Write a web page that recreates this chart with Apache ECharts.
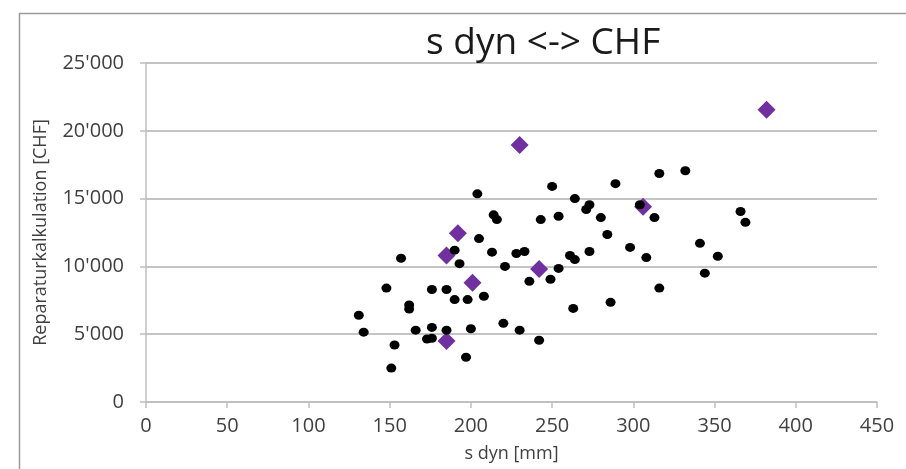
<!DOCTYPE html>
<html>
<head>
<meta charset="utf-8">
<script src="https://cdn.jsdelivr.net/npm/echarts@6/dist/echarts.min.js"></script>
<style>
html,body{margin:0;padding:0;background:#fff;}
#chart{width:906px;height:469px;}
</style>
</head>
<body>
<div id="chart"></div>
<script>
var titleText = 's dyn <-> CHF';
var xAxisName = 's dyn [mm]';
var yAxisName = 'Reparaturkalkulation [CHF]';

var sdynBlack = [131,134,148,157,162,162,153,151,166,176,176,185,185,173,176,190,198,208,197,200,
  190,193,205,204,214,216,213,220,230,221,228,233,236,243,242,249,250,254,254,261,
  264,263,264,273,271,273,280,284,286,289,298,304,308,313,316,316,332,341,344,352,366,369];
var chfBlack = [6400,5150,8400,10600,7150,6850,4200,2500,5300,5500,8300,8300,5300,4650,4700,7550,7550,7800,3300,5400,
  11200,10200,12050,15350,13800,13450,11050,5800,5300,10000,10950,11100,8900,13450,4550,9050,15900,13700,9850,10800,
  10500,6900,15000,14550,14200,11100,13600,12350,7350,16100,11400,14550,10650,13600,16850,8400,17050,11700,9500,10750,14050,13250];

var sdynPurple = [382,230,192,185,201,242,306,185];
var chfPurple = [21550,18950,12450,10800,8800,9800,14400,4500];

var xTicks = [0,450,50];
var yTicks = [0,25000,5000];

function pairs(xs, ys){ return xs.map(function(x,i){ return [x, ys[i]]; }); }
function fmt(v){ return String(v).replace(/\B(?=(\d{3})+(?!\d))/g, "'"); }

var chart = echarts.init(document.getElementById('chart'));
var font = 'Open Sans';
chart.setOption({
  animation: false,
  backgroundColor: '#ffffff',
  graphic: [{
    type: 'rect', silent: true,
    shape: {x: 19.5, y: 13.5, width: 1000, height: 1000},
    style: {fill: 'none', stroke: '#9a9a9a', lineWidth: 1.5}
  }],
  title: {
    text: titleText, left: 421, top: 20,
    textStyle: {fontFamily: font, fontSize: 37, fontWeight: 'normal', color: '#1a1a1a'}
  },
  grid: {left: 146, right: 29, top: 63, bottom: 67},
  xAxis: {
    type: 'value', min: xTicks[0], max: xTicks[1], interval: xTicks[2],
    name: xAxisName, nameLocation: 'middle', nameGap: 43,
    nameTextStyle: {fontFamily: font, fontSize: 18, color: '#404040'},
    axisLine: {show: true, lineStyle: {color: '#bfbfbf', width: 1.5}},
    axisTick: {show: true, length: 6, lineStyle: {color: '#bfbfbf', width: 1.5}},
    axisLabel: {margin: 14, fontFamily: font, fontSize: 20, color: '#404040'},
    splitLine: {show: false}
  },
  yAxis: {
    type: 'value', min: yTicks[0], max: yTicks[1], interval: yTicks[2],
    name: yAxisName, nameLocation: 'middle', nameGap: 96,
    nameTextStyle: {fontFamily: font, fontSize: 18, color: '#404040'},
    axisLine: {show: true, lineStyle: {color: '#bfbfbf', width: 1.5}},
    axisTick: {show: true, length: 6, lineStyle: {color: '#bfbfbf', width: 1.5}},
    axisLabel: {margin: 22, fontFamily: font, fontSize: 20, color: '#404040', formatter: fmt},
    splitLine: {show: true, lineStyle: {color: '#c4c4c4', width: 2}}
  },
  series: [
    {
      type: 'scatter', name: 'purple', data: pairs(sdynPurple, chfPurple),
      symbol: 'diamond', symbolSize: [18, 18],
      itemStyle: {color: '#7030a0', opacity: 1}
    },
    {
      type: 'scatter', name: 'black', data: pairs(sdynBlack, chfBlack),
      symbol: 'circle', symbolSize: [10, 9],
      itemStyle: {color: '#000000', opacity: 1}
    }
  ]
});
</script>
</body>
</html>
